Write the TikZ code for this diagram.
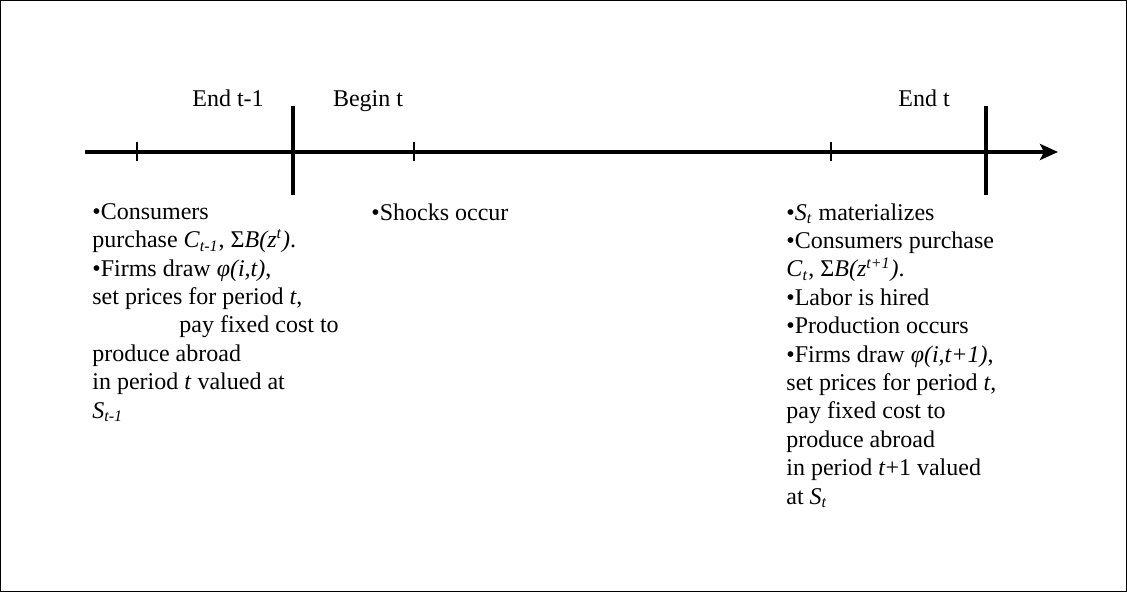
\documentclass[tikz,border=0pt]{standalone}
\usepackage{fontspec}
\setmainfont{Liberation Serif}
\usepackage{tikz}
\usetikzlibrary{arrows.meta, positioning}
\newcommand{\I}[1]{\textit{#1}}
\newcommand{\sub}[1]{\textsubscript{\textit{#1}}}
\tikzset{
  etiqueta/.style={anchor=base, inner sep=0pt, font=\fontsize{12}{14.3}\selectfont},
  bloque/.style={anchor=north west, inner sep=0pt, align=left, font=\fontsize{12}{14.2}\selectfont},
  marca/.style={line width=0.6pt},
  corte/.style={line width=1.6pt}
}

\begin{document}
\begin{tikzpicture}[x=0.5pt, y=-0.5pt]
        % Marco
        \useasboundingbox (0,0) rectangle (1127,592);
        \draw[line width=0.6pt] (0.6,0.6) rectangle (1126.4,591.4);
        % Eje temporal
        \coordinate (ejeIni) at (85,152);
        \coordinate (ejeFin) at (1058,152);
        \draw[line width=2pt, -{Stealth[length=9pt, width=8pt, inset=2pt]}] (ejeIni) -- (ejeFin);
        % Marcas pequenas
        \foreach \x in {137, 414, 831}
            \draw[marca] (\x,142) -- (\x,161);
        % Cortes de periodo
        \foreach \x in {293, 986}
            \draw[corte] (\x,106) -- (\x,195);

        %######## Etiquetas superiores #############
        \node[etiqueta] (finprev) at (228,107) {End t-1};
        \node[etiqueta] (inicio) at (368,107) {Begin t};
        \node[etiqueta] (fin) at (924,107) {End t};

        %######## Texto izquierdo #############
        \node[bloque] (izq) at (92,203) {%
            •Consumers\\
            purchase \I{C}\sub{t-1}, Σ\I{B(z\textsuperscript{t})}.\\
            •Firms draw \I{φ(i,t)},\\
            set prices for period \I{t},\\
            \hspace*{43.5pt}pay fixed cost to\\
            produce abroad\\
            in period \I{t} valued at\\
            \I{S}\sub{t-1}};
        %######## Texto central #############
        \node[bloque] (choques) at (371,203) {•Shocks occur};
        %######## Texto derecho #############
        \node[bloque] (der) at (786,203) {%
            •\I{S}\sub{t} materializes\\
            •Consumers purchase\\
            \I{C}\sub{t}, Σ\I{B(z\textsuperscript{t+1})}.\\
            •Labor is hired\\
            •Production occurs\\
            •Firms draw \I{φ(i,t+1)},\\
            set prices for period \I{t},\\
            pay fixed cost to\\
            produce abroad\\
            in period \I{t}+1 valued\\
            at \I{S}\sub{t}};
\end{tikzpicture}
\end{document}
